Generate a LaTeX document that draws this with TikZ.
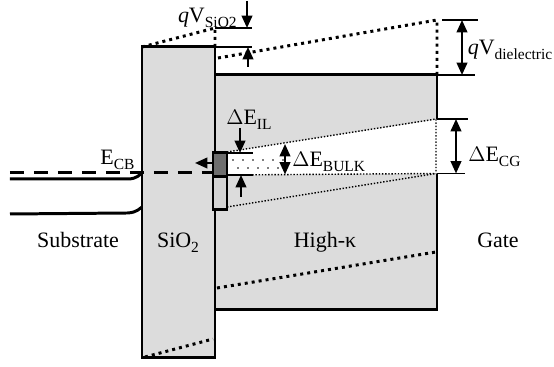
\documentclass[tikz,border=0pt]{standalone}
\usepackage{fontspec}
\setmainfont{Liberation Serif}
\usepackage{tikz}
\usetikzlibrary{arrows.meta}
\definecolor{oksitGri}{HTML}{DCDCDC}
\definecolor{ilKoyu}{HTML}{6E6E6E}
\definecolor{ilAcik}{HTML}{D4D4D4}
\newcommand{\lo}[1]{\raisebox{-0.45ex}{\fontsize{8.8}{10}\selectfont #1}}

\begin{document}
\begin{tikzpicture}[scale=1.0,
  wall/.style={line width=1.7pt},
  bigdots/.style={line width=1.7pt,dash pattern=on 1.7pt off 2.3pt},
  smalldots/.style={line width=0.8pt,dash pattern=on 0.8pt off 1pt},
  tickline/.style={line width=1.1pt},
  dimarrow/.style={line width=1.2pt,-{Triangle[length=7pt,width=6pt]}},
  dimboth/.style={line width=1.2pt,{Triangle[length=7pt,width=6pt]}-{Triangle[length=7pt,width=6pt]}},
  lbl/.style={font=\fontsize{12.5}{15}\selectfont,inner sep=0pt}]
\useasboundingbox (0,0) rectangle (11.08,7.34);
% layers
\draw[wall,fill=oksitGri] (2.84,0.18) rectangle (4.30,6.40);
\draw[wall,fill=oksitGri] (4.30,1.14) rectangle (8.74,5.84);
\fill[white] (4.54,4.30) -- (8.80,4.96) -- (8.80,3.87) -- (4.54,3.84) -- cycle;
\foreach \i in {0,...,5} \fill (4.66+0.2*\i,4.14) circle (0.5pt);
\foreach \i in {0,...,4} \fill (4.76+0.2*\i,3.98) circle (0.5pt);
\draw[smalldots] (4.54,4.30) -- (8.72,4.96) -- (8.72,3.87);
\draw[smalldots] (4.54,3.84) -- (8.72,3.87);
\draw[smalldots] (4.54,3.20) -- (8.72,3.87);
% interfacial layer
\draw[wall,fill=ilAcik] (4.26,3.14) rectangle (4.54,3.80);
\draw[wall,fill=ilKoyu] (4.26,3.80) rectangle (4.54,4.28);
% biased bands
\draw[bigdots] (2.84,6.40) -- (4.30,6.78) -- (4.30,6.40);
\draw[bigdots] (4.36,6.18) -- (8.74,6.94) -- (8.74,5.84);
\draw[bigdots] (4.34,1.58) -- (8.72,2.30);
\draw[bigdots] (2.90,0.20) -- (4.26,0.56);
% substrate
\draw[wall] (0.20,3.76) -- (2.55,3.76) .. controls (2.75,3.76) and (2.80,3.86) .. (2.84,3.88);
\draw[wall] (0.20,3.06) -- (2.55,3.08) .. controls (2.75,3.09) and (2.80,3.18) .. (2.84,3.20);
\draw[line width=1.7pt,dash pattern=on 0.28cm off 0.2cm] (0.20,3.88) -- (4.26,3.88);
\draw[dimarrow] (4.26,4.08) -- (3.90,4.08);
% qV_SiO2
\draw[tickline] (4.30,6.78) -- (5.04,6.78);
\draw[tickline] (4.30,6.40) -- (5.04,6.40);
\draw[dimarrow] (4.94,7.32) -- (4.94,6.78);
\draw[dimarrow] (4.96,6.00) -- (4.96,6.40);
\node[lbl,anchor=base east] (qvOx) at (4.74,6.88) {\textit{q}V\lo{SiO2}};
% qV_dielectric
\draw[tickline] (8.84,6.94) -- (9.56,6.94);
\draw[tickline] (8.74,5.84) -- (9.50,5.84);
\draw[dimboth] (9.24,6.94) -- (9.24,5.84);
\node[lbl,anchor=base west] (qvDiel) at (9.35,6.24) {\textit{q}V\lo{dielectric}};
% Delta E_CG
\draw[tickline] (8.74,4.96) -- (9.36,4.96);
\draw[tickline] (8.74,3.87) -- (9.30,3.87);
\draw[dimboth] (9.12,4.96) -- (9.12,3.87);
\node[lbl,anchor=base west] (eCG) at (9.36,4.10) {$\Delta$E\lo{CG}};
% Delta E_IL and Delta E_BULK
\draw[tickline] (4.54,4.28) -- (5.06,4.28);
\draw[tickline] (4.54,3.84) -- (5.06,3.84);
\draw[dimarrow] (4.80,4.78) -- (4.80,4.28);
\draw[dimarrow] (4.82,3.40) -- (4.82,3.84);
\node[lbl,anchor=base west] (eIL) at (4.52,4.84) {$\Delta$E\lo{IL}};
\draw[dimboth] (5.70,4.46) -- (5.70,3.85);
\node[lbl,anchor=base west] (eBulk) at (5.84,4.00) {$\Delta$E\lo{BULK}};
\node[lbl,anchor=base west] (eCB) at (2.00,4.04) {E\lo{CB}};
% region names
\node[lbl,anchor=base] (lblSub) at (1.56,2.38) {Substrate};
\node[lbl,anchor=base] (lblOx) at (3.56,2.38) {SiO\lo{2}};
\node[lbl,anchor=base] (lblHk) at (6.50,2.38) {High-κ};
\node[lbl,anchor=base] (lblGate) at (9.96,2.38) {Gate};
\end{tikzpicture}
\end{document}
